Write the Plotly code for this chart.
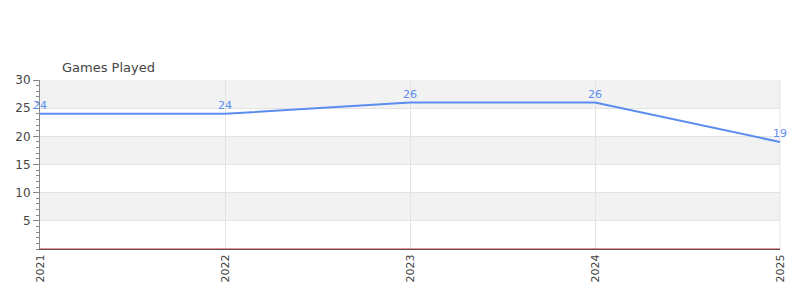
import plotly.graph_objects as go

years = [2021, 2022, 2023, 2024, 2025]
year_labels = ["2021", "2022", "2023", "2024", "2025"]
games_played = [24, 24, 26, 26, 19]
y_ticks = [5, 10, 15, 20, 25, 30]

LINE = "#5b8def"

fig = go.Figure()
fig.add_trace(go.Scatter(
    x=years, y=games_played, mode="lines",
    line=dict(color=LINE, width=2), cliponaxis=False, hoverinfo="skip",
    showlegend=False,
))
for xv, yv in zip(years, games_played):
    fig.add_annotation(x=xv, y=yv, text=str(yv), showarrow=False, yanchor="bottom",
                       yshift=0, font=dict(family="DejaVu Sans", size=11, color=LINE))

# alternating bands
bounds = [0] + y_ticks
shapes = []
for i in range(len(bounds) - 1):
    if i % 2 == 1:
        shapes.append(dict(type="rect", xref="paper", yref="y", x0=0, x1=1,
                           y0=bounds[i], y1=bounds[i + 1],
                           fillcolor="#f2f2f2", line_width=0, layer="below"))
shapes.append(dict(type="line", xref="paper", yref="paper", x0=1, x1=1, y0=0, y1=1,
                   line=dict(color="#e3e3e3", width=1), layer="below"))
shapes.append(dict(type="line", xref="paper", yref="y", x0=0, x1=1, y0=0, y1=0,
                   line=dict(color="#d62728", width=1)))

fig.update_layout(
    width=800, height=300,
    margin=dict(l=40, r=20, t=80, b=51),
    paper_bgcolor="white", plot_bgcolor="white",
    shapes=shapes,
    title=dict(text="Games Played", x=62 / 800, xanchor="left", y=1 - 67 / 300,
               yanchor="middle", font=dict(family="DejaVu Sans", size=13, color="#444")),
    xaxis=dict(range=[2021, 2025], tickvals=years, ticktext=year_labels,
               tickangle=-90, showgrid=True, gridcolor="#e3e3e3", gridwidth=1,
               showline=True, linecolor="#555", linewidth=1, ticks="",
               tickfont=dict(family="DejaVu Sans", size=11, color="#444"),
               zeroline=False, fixedrange=True),
    yaxis=dict(range=[0, 30], tickvals=y_ticks, showgrid=True, gridcolor="#e3e3e3",
               showline=True, linecolor="#888", linewidth=1, ticks="outside",
               ticklen=6, tickcolor="#888",
               minor=dict(dtick=1, ticks="outside", ticklen=3, tickcolor="#888", showgrid=False),
               tickfont=dict(family="DejaVu Sans", size=12, color="#444"),
               zeroline=False, fixedrange=True),
)

fig.write_html("out.html")
